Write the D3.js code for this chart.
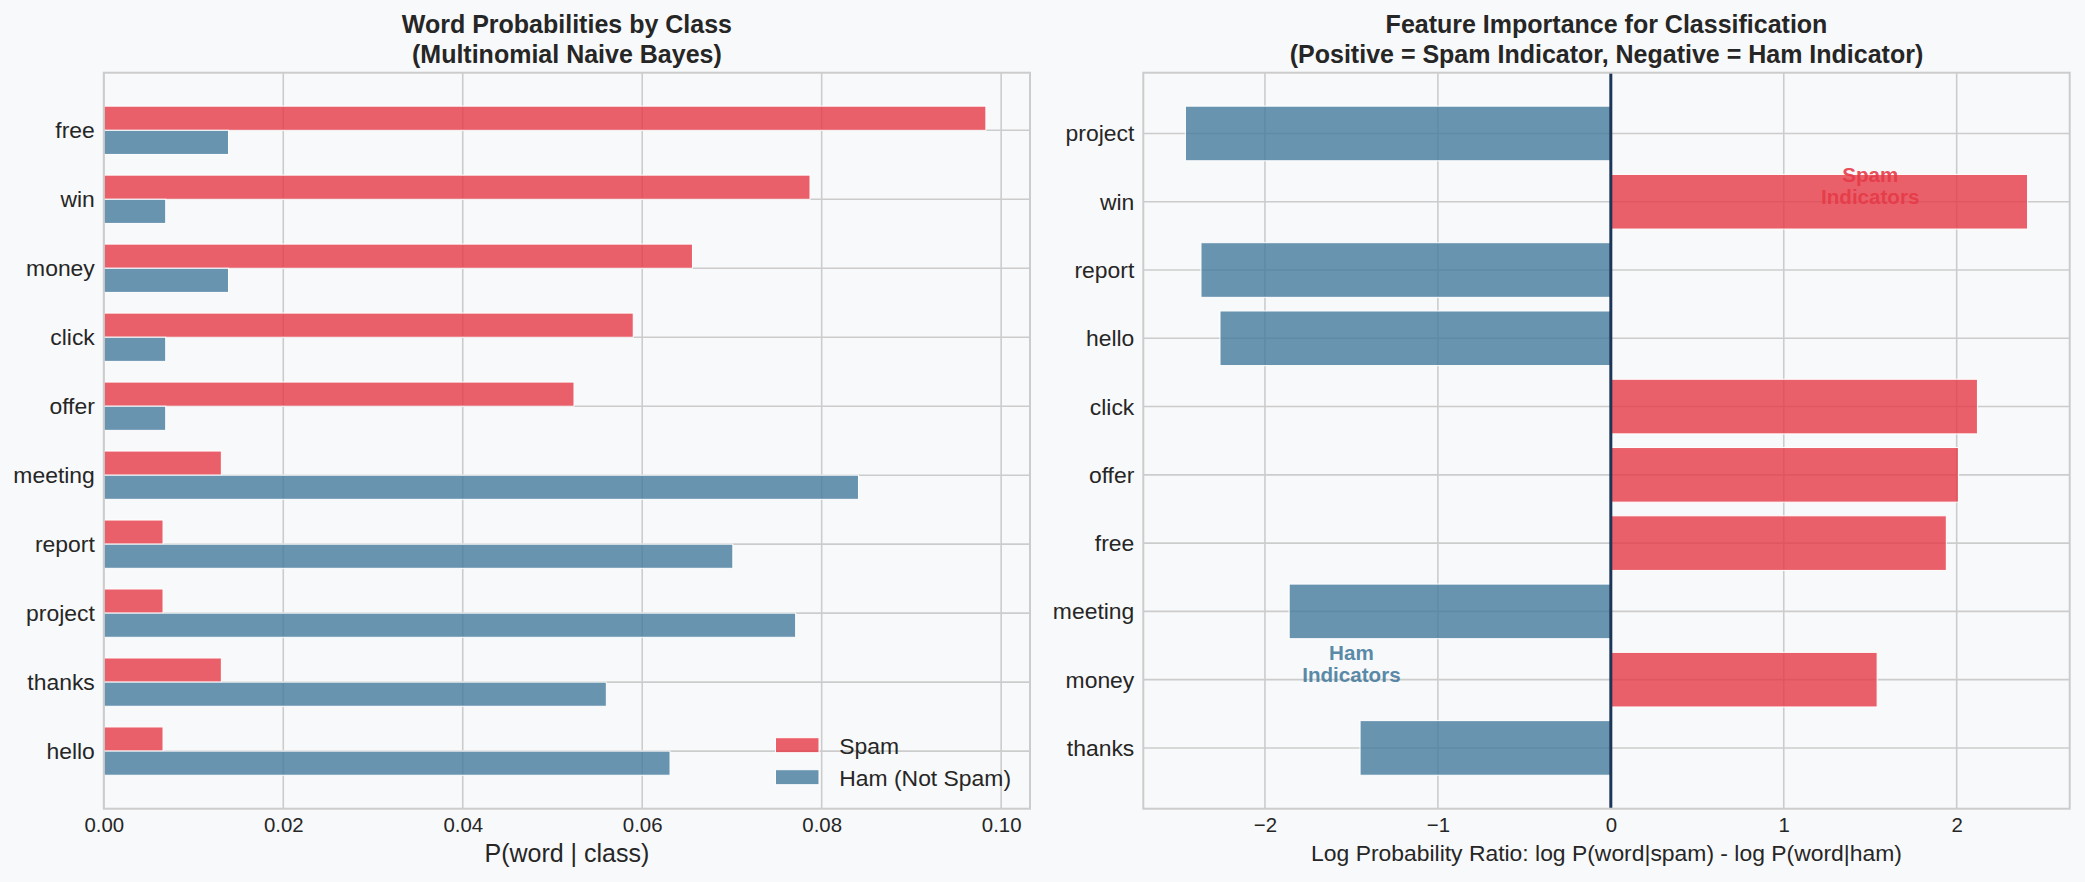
<!DOCTYPE html>
<html>
<head>
<meta charset="utf-8">
<script src="https://cdn.jsdelivr.net/npm/d3@7"></script>
<style>
  body { margin: 0; background: #f8f9fa; }
  svg { display: block; font-family: "Liberation Sans", Arial, sans-serif; }
</style>
</head>
<body>
<div id="chart"></div>
<script>
// left panel: P(word | class)
var words = ["free", "win", "money", "click", "offer", "meeting", "report", "project", "thanks", "hello"];
var pSpam = [0.0983, 0.0787, 0.0656, 0.0590, 0.0524, 0.0131, 0.0066, 0.0066, 0.0131, 0.0066];
var pHam  = [0.0139, 0.0069, 0.0139, 0.0069, 0.0069, 0.0841, 0.0701, 0.0771, 0.0560, 0.0631];
var probTicks = [0, 0.02, 0.04, 0.06, 0.08, 0.10];

// right panel: log ratio, sorted by magnitude
var featWords = ["project", "win", "report", "hello", "click", "offer", "free", "meeting", "money", "thanks"];
var logRatio  = [-2.46, 2.41, -2.37, -2.26, 2.12, 2.01, 1.94, -1.86, 1.54, -1.45];
var ratioTicks = [-2, -1, 0, 1, 2];

var spamColor = "#e63946", hamColor = "#457b9d", gridColor = "#cccccc", textColor = "#262626";

var W = 2085, H = 882;
var svg = d3.select("#chart").append("svg").attr("width", W).attr("height", H);
svg.append("rect").attr("width", W).attr("height", H).attr("fill", "#f8f9fa");

var plotTop = 72.7, plotBottom = 808.7;
var left1 = 103.8, right1 = 1030, left2 = 1143.3, right2 = 2069.7;

function panel(x0, x1, xScale, yScale, ticks, fmt, n) {
    var g = svg.append("g");
    // vertical grid
    g.selectAll(".vg").data(ticks).enter().append("line")
        .attr("x1", d => xScale(d)).attr("x2", d => xScale(d))
        .attr("y1", plotTop).attr("y2", plotBottom)
        .attr("stroke", gridColor).attr("stroke-width", 1.6);
    // horizontal grid at categories
    g.selectAll(".hg").data(d3.range(n)).enter().append("line")
        .attr("x1", x0).attr("x2", x1)
        .attr("y1", d => yScale(d)).attr("y2", d => yScale(d))
        .attr("stroke", gridColor).attr("stroke-width", 1.6);
    var xAxis = d3.axisBottom(xScale).tickValues(ticks).tickSize(0).tickPadding(9).tickFormat(fmt);
    var ax = g.append("g").attr("transform", "translate(0," + plotBottom + ")").call(xAxis);
    ax.select(".domain").remove();
    ax.selectAll("text").attr("font-size", "20.4px").attr("fill", textColor)
        .attr("font-family", "Liberation Sans, Arial, sans-serif");
    return g;
}

function frame(x0, x1) {
    svg.append("rect").attr("x", x0).attr("y", plotTop).attr("width", x1 - x0).attr("height", plotBottom - plotTop)
        .attr("fill", "none").attr("stroke", gridColor).attr("stroke-width", 2);
}

function yLabels(g, labels, yScale, x0) {
    var n = labels.length;
    g.selectAll(".yl").data(labels).enter().append("text")
        .attr("x", x0 - 9).attr("y", (d, i) => yScale(n - 1 - i)).attr("dy", "0.35em")
        .attr("text-anchor", "end").attr("font-size", "22.9px").attr("fill", textColor)
        .text(d => d);
}

function title(cx, lines) {
    lines.forEach(function (t, i) {
        svg.append("text").attr("x", cx).attr("y", 33 + i * 30)
            .attr("text-anchor", "middle").attr("font-size", "25px").attr("font-weight", "bold")
            .attr("fill", textColor).text(t);
    });
}

// ---------- left panel ----------
var n1 = words.length;
var bh = 0.35;
var x1s = d3.scaleLinear().domain([0, d3.max(pSpam.concat(pHam)) * 1.05]).range([left1, right1]);
var ySpan1 = (n1 - 1 + 2 * bh) * 0.05;
var y1s = d3.scaleLinear().domain([-bh - ySpan1, n1 - 1 + bh + ySpan1]).range([plotBottom, plotTop]);

var g1 = panel(left1, right1, x1s, y1s, probTicks, d3.format(".2f"), n1);
g1.selectAll(".spam").data(pSpam).enter().append("rect")
    .attr("x", x1s(0)).attr("y", (d, i) => y1s(n1 - 1 - i + bh))
    .attr("width", d => x1s(d) - x1s(0)).attr("height", y1s(0) - y1s(bh))
    .attr("fill", spamColor).attr("fill-opacity", 0.8).attr("stroke", "#ffffff").attr("stroke-width", 1);
g1.selectAll(".ham").data(pHam).enter().append("rect")
    .attr("x", x1s(0)).attr("y", (d, i) => y1s(n1 - 1 - i))
    .attr("width", d => x1s(d) - x1s(0)).attr("height", y1s(0) - y1s(bh))
    .attr("fill", hamColor).attr("fill-opacity", 0.8).attr("stroke", "#ffffff").attr("stroke-width", 1);
yLabels(g1, words, y1s, left1);
frame(left1, right1);
title((left1 + right1) / 2, ["Word Probabilities by Class", "(Multinomial Naive Bayes)"]);
svg.append("text").attr("x", (left1 + right1) / 2).attr("y", 862).attr("text-anchor", "middle")
    .attr("font-size", "25px").attr("fill", textColor).text("P(word | class)");

// legend
var legendItems = [["Spam", spamColor], ["Ham (Not Spam)", hamColor]];
legendItems.forEach(function (d, i) {
    var ly = 737.7 + i * 32;
    svg.append("rect").attr("x", 775.5).attr("y", ly).attr("width", 43.5).attr("height", 15)
        .attr("fill", d[1]).attr("fill-opacity", 0.8).attr("stroke", "#ffffff").attr("stroke-width", 1);
    svg.append("text").attr("x", 839.3).attr("y", ly + 15.8).attr("font-size", "22.9px")
        .attr("fill", textColor).text(d[0]);
});

// ---------- right panel ----------
var n2 = featWords.length;
var bw = 0.8;
var lo = d3.min(logRatio), hi = d3.max(logRatio), pad = (hi - lo) * 0.05;
var x2s = d3.scaleLinear().domain([lo - pad, hi + pad]).range([left2, right2]);
var ySpan2 = (n2 - 1 + bw) * 0.05;
var y2s = d3.scaleLinear().domain([-bw / 2 - ySpan2, n2 - 1 + bw / 2 + ySpan2]).range([plotBottom, plotTop]);

var g2 = panel(left2, right2, x2s, y2s, ratioTicks, d3.format("d"), n2);
g2.selectAll(".ratio").data(logRatio).enter().append("rect")
    .attr("x", d => x2s(Math.min(0, d))).attr("y", (d, i) => y2s(n2 - 1 - i + bw / 2))
    .attr("width", d => Math.abs(x2s(d) - x2s(0))).attr("height", y2s(0) - y2s(bw))
    .attr("fill", d => d > 0 ? spamColor : hamColor).attr("fill-opacity", 0.8)
    .attr("stroke", "#ffffff").attr("stroke-width", 1);
g2.append("line").attr("x1", x2s(0)).attr("x2", x2s(0)).attr("y1", plotTop).attr("y2", plotBottom)
    .attr("stroke", "#1d3557").attr("stroke-width", 3);
yLabels(g2, featWords, y2s, left2);
frame(left2, right2);
title((left2 + right2) / 2, ["Feature Importance for Classification",
    "(Positive = Spam Indicator, Negative = Ham Indicator)"]);
svg.append("text").attr("x", (left2 + right2) / 2).attr("y", 861).attr("text-anchor", "middle")
    .attr("font-size", "22.9px").attr("fill", textColor)
    .text("Log Probability Ratio: log P(word|spam) - log P(word|ham)");

// annotations
var notes = [[1.5, 8.5, ["Spam", "Indicators"], spamColor], [-1.5, 1.5, ["Ham", "Indicators"], hamColor]];
notes.forEach(function (d) {
    d[2].forEach(function (t, i) {
        svg.append("text").attr("x", x2s(d[0])).attr("y", y2s(d[1]) + 14.5 + i * 22)
            .attr("text-anchor", "middle").attr("font-size", "20.6px").attr("font-weight", "bold")
            .attr("fill", d[3]).attr("fill-opacity", 0.9).text(t);
    });
});
</script>
</body>
</html>
